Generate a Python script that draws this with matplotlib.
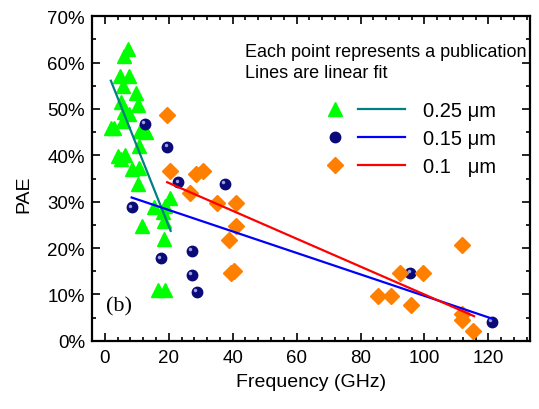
import matplotlib
matplotlib.use('Agg')
import matplotlib.pyplot as plt
import matplotlib.transforms as mtransforms
from matplotlib.legend_handler import HandlerTuple
from matplotlib.ticker import MultipleLocator, FuncFormatter

plt.rcParams['font.family'] = ['Liberation Sans', 'DejaVu Sans']

# 0.25 um gate length (green triangles)
freq_025 = [7.3, 6.0, 4.7, 7.6, 5.7, 9.7, 5.2, 10.4, 6.0, 7.6, 5.7, 2.0, 3.0,
            11.0, 12.9, 10.8, 4.2, 6.3, 5.0, 8.4, 10.8, 10.4, 20.4, 15.5,
            18.8, 18.3, 18.5, 11.5, 18.5, 16.5, 18.8]
pae_025 = [63.0, 61.5, 57.2, 57.2, 54.9, 53.5, 51.4, 50.9, 49.3, 48.9, 47.3,
           46.0, 45.8, 45.3, 45.0, 42.1, 39.9, 40.1, 39.1, 37.1, 37.2, 33.8,
           30.9, 28.8, 29.1, 27.7, 25.9, 24.8, 21.9, 10.9, 10.9]

# 0.15 um (navy spheres)
freq_015 = [12.5, 19.6, 23.0, 8.4, 17.5, 27.2, 27.2, 28.7, 37.6, 95.6, 121.0]
pae_015 = [46.8, 41.9, 34.2, 28.8, 17.8, 19.4, 14.2, 10.6, 33.8, 14.6, 4.0]

# 0.1 um (orange diamonds)
freq_01 = [19.5, 20.4, 26.6, 28.5, 30.8, 35.0, 41.1, 41.1, 38.9, 39.5, 40.5,
           111.8, 92.3, 99.6, 85.4, 89.6, 95.8, 111.8, 111.8, 115.3]
pae_01 = [48.8, 36.7, 31.8, 36.0, 36.7, 29.7, 29.7, 24.7, 21.7, 14.6, 15.0,
          20.7, 14.6, 14.6, 9.6, 9.6, 7.7, 5.8, 4.5, 2.0]

# linear fit end points
fit_025_x = [1.9, 20.6]
fit_025_y = [56.1, 23.7]
fit_015_x = [8.4, 121.0]
fit_015_y = [30.9, 4.8]
fit_01_x = [19.5, 115.5]
fit_01_y = [34.2, 5.3]

labels = ['0.25 \u03bcm', '0.15 \u03bcm', '0.1   \u03bcm']

fig = plt.figure(figsize=(5.39, 4.10), dpi=100)
ax = fig.add_axes([92 / 539, 1 - 341.7 / 410, (530 - 92) / 539, (341.7 - 17.3) / 410])

tri, = ax.plot(freq_025, pae_025, ls='none', marker='^', ms=9.5,
               color='#00ff00', mec='#00ff00', zorder=2)
sph, = ax.plot(freq_015, pae_015, ls='none', marker='o', ms=7.5,
               color='#0a0a78', mec='#0a0a78', zorder=2)
hl_trans = mtransforms.offset_copy(ax.transData, fig=fig, x=-1.2, y=1.2, units='points')
ax.plot(freq_015, pae_015, ls='none', marker='o', ms=2.5, color='#a0a0e0',
        mec='none', transform=hl_trans, zorder=2.1)
dia, = ax.plot(freq_01, pae_01, ls='none', marker='D', ms=8,
               color='#ff8000', mec='#ff8000', zorder=2)

l1, = ax.plot(fit_025_x, fit_025_y, color='#008080', lw=1.6, zorder=3)
l2, = ax.plot(fit_015_x, fit_015_y, color='#0000ff', lw=1.6, zorder=3)
l3, = ax.plot(fit_01_x, fit_01_y, color='#ff0000', lw=1.6, zorder=3)

ax.set_xlim(-4, 133)
ax.set_ylim(0, 70)
ax.xaxis.set_major_locator(MultipleLocator(20))
ax.xaxis.set_minor_locator(MultipleLocator(4))
ax.yaxis.set_major_locator(MultipleLocator(10))
ax.yaxis.set_minor_locator(MultipleLocator(5))
ax.yaxis.set_major_formatter(FuncFormatter(lambda v, p: f'{v:.0f}%'))

ax.tick_params(which='both', direction='in', top=True, right=True, width=1.2,
               labelsize=13.5)
ax.tick_params(which='major', length=6)
ax.tick_params(which='minor', length=3)
ax.tick_params(axis='x', pad=6)
ax.tick_params(axis='y', pad=5)
for s in ax.spines.values():
    s.set_linewidth(1.6)

ax.set_xlabel('Frequency (GHz)', fontsize=14)
ax.set_ylabel('PAE', fontsize=14)
ax.xaxis.set_label_coords(0.5, -0.10)
ax.yaxis.set_label_coords(-0.135, 0.455)

ax.text(0.349, 0.893, 'Each point represents a publication', transform=ax.transAxes,
        fontsize=13, va='center', ha='left')
ax.text(0.349, 0.828, 'Lines are linear fit', transform=ax.transAxes,
        fontsize=13, va='center', ha='left')
ax.text(0.032, 0.107, '(b)', transform=ax.transAxes, fontsize=16,
        family='Liberation Serif', va='center', ha='left')

ax.legend([(tri, l1), (sph, l2), (dia, l3)], labels,
          handler_map={tuple: HandlerTuple(ndivide=None, pad=0)},
          loc='upper left', bbox_to_anchor=(311 / 539, 1 - 102 / 410),
          bbox_transform=fig.transFigure, frameon=False, borderpad=0,
          borderaxespad=0, handlelength=4.67, handletextpad=0.9,
          labelspacing=0.45, fontsize=14.5)

fig.savefig('out.png', dpi=100)
